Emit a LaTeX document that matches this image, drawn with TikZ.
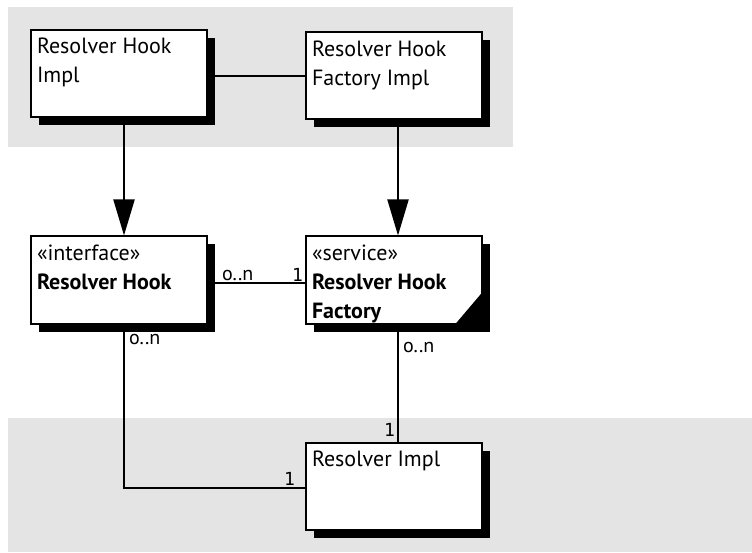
\documentclass[tikz,border=0pt]{standalone}
\usepackage{fontspec}
\setmainfont{PT Sans}
\setmonofont{DejaVu Sans Mono}
\usetikzlibrary{arrows.meta,shadows}
\definecolor{pkgbg}{RGB}{228,228,228}
\begin{document}
\begin{tikzpicture}[x=1pt,y=-1pt,line width=2pt,line join=miter,
    cls/.style={draw,fill=white,minimum width=176pt,minimum height=87pt,inner sep=0pt,
      drop shadow={shadow xshift=8pt,shadow yshift=-8pt,fill=black,opacity=1}},
    txt/.style={anchor=north west,align=left,inner sep=0pt,xshift=6pt,yshift=-8pt,font=\fontsize{22}{29}\selectfont},
    mult/.style={inner sep=1pt,font=\fontsize{20}{22}\selectfont},
    one/.style={inner sep=1pt,font=\ttfamily\fontsize{18}{20}\selectfont},
    gen/.style={-{Triangle[length=36pt,width=21pt]}}]
	\useasboundingbox (0,0) rectangle (752,553);
	\fill[pkgbg] (8,7) rectangle (513,147);
	\fill[pkgbg] (8,418) rectangle (752,552);
	\node[cls] (hookimpl) at (119,73.5) {};
	\node[cls] (factoryimpl) at (394,76) {};
	\node[cls] (hook) at (119,280) {};
	\node[cls] (factory) at (394,280) {};
	\node[cls] (resolverimpl) at (394,486) {};
	\fill (factory.south east) -- ++(-28,0) -- ++(28,-33) -- cycle;
	\node[txt] (hookimpltxt) at (hookimpl.north west) {Resolver Hook\\Impl};
	\node[txt] (factoryimpltxt) at (factoryimpl.north west) {Resolver Hook\\Factory Impl};
	\node[txt] (hooktxt) at (hook.north west) {«interface»\\\textbf{Resolver Hook}};
	\node[txt] (factorytxt) at (factory.north west) {«service»\\\textbf{Resolver Hook}\\\textbf{Factory}};
	\node[txt] (resolverimpltxt) at (resolverimpl.north west) {Resolver Impl};
	\draw (factoryimpl.west) -- (factoryimpl.west -| hookimpl.east);
	\draw[gen] ([xshift=5pt]hookimpl.south) -- ([xshift=5pt]hook.north);
	\draw[gen] ([xshift=4pt]factoryimpl.south) -- ([xshift=4pt]factory.north);
	\draw ([yshift=-3pt]hook.east) -- ([yshift=-3pt]factory.west)
		node[mult,at start,anchor=south west,xshift=12pt] (hookmult) {o..n}
		node[one,at end,anchor=south east] (factoryone) {1};
	\draw ([xshift=5pt]hook.south) |- ([yshift=-2pt]resolverimpl.west)
		node[mult,at start,anchor=north west,xshift=3pt,yshift=-8pt] (hookmultb) {o..n}
		node[one,at end,anchor=south east,xshift=-8pt,yshift=1pt] (resolverone) {1};
	\draw ([xshift=4pt]factory.south) -- ([xshift=4pt]resolverimpl.north)
		node[mult,at start,anchor=north west,xshift=3pt,yshift=-16pt] (factorymult) {o..n}
		node[one,at end,anchor=south east,xshift=-1pt,yshift=3pt] (resolveroneb) {1};
\end{tikzpicture}
\end{document}
